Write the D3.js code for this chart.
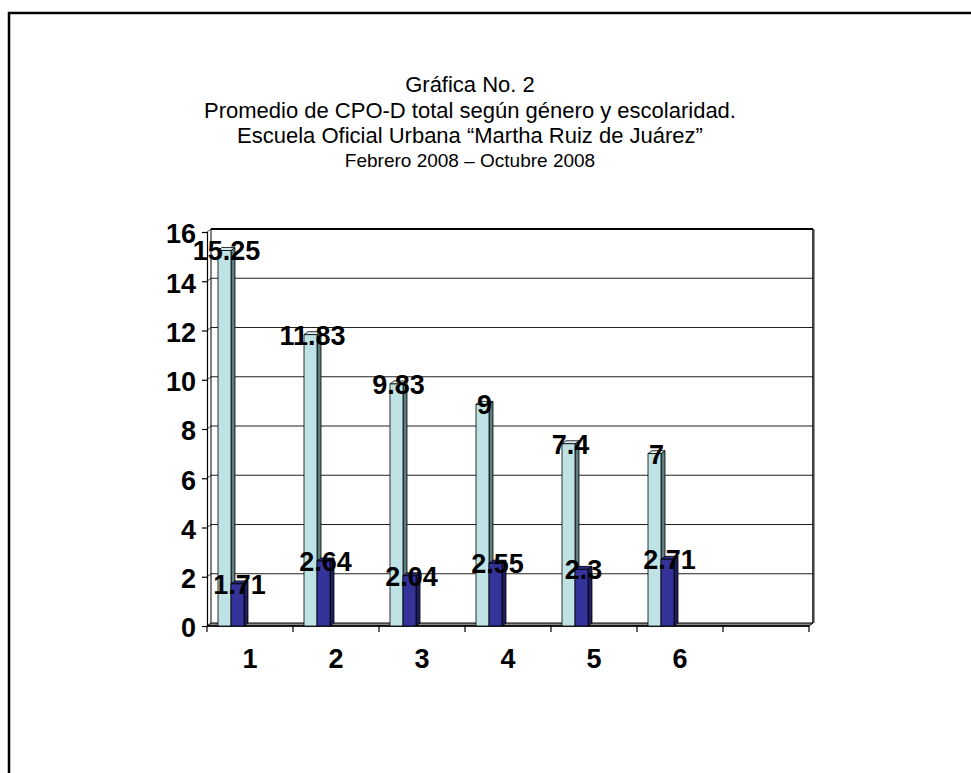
<!DOCTYPE html>
<html>
<head>
<meta charset="utf-8">
<script src="https://cdn.jsdelivr.net/npm/d3@7"></script>
<style>
  html, body { margin: 0; padding: 0; background: #fff; }
  svg { display: block; }
  text { font-family: Arial, "Liberation Sans", sans-serif; }
</style>
</head>
<body>
<svg id="chart" width="971" height="773"></svg>
<script>
// Grade levels (the seventh slot is an empty category)
const categories = ["1", "2", "3", "4", "5", "6", ""];
// Average CPO-D per grade, two series
const seriesNames = ["serieA", "serieB"];
const valuesA = [15.25, 11.83, 9.83, 9, 7.4, 7];
const valuesB = [1.71, 2.64, 2.04, 2.55, 2.3, 2.71];
const yTicks = [0, 2, 4, 6, 8, 10, 12, 14, 16];
const titleLines = [
  "Gráfica No. 2",
  "Promedio de CPO-D total según género y escolaridad.",
  "Escuela Oficial Urbana “Martha Ruiz de Juárez”",
  "Febrero 2008 – Octubre 2008"
];

const svg = d3.select("#chart");

// Page frame
svg.append("rect")
  .attr("x", 9).attr("y", 13).attr("width", 1000).attr("height", 800)
  .attr("fill", "none").attr("stroke", "#000").attr("stroke-width", 2.5);

// Title block
const titleSizes = [22, 22, 22, 19];
const titleY = [92, 118, 143, 167];
svg.append("g").selectAll("text").data(titleLines).join("text")
  .attr("x", 470).attr("y", (d, i) => titleY[i])
  .attr("text-anchor", "middle")
  .attr("font-size", (d, i) => titleSizes[i])
  .attr("fill", "#000")
  .text(d => d);

// Scales
const x = d3.scaleBand().domain(categories).range([207, 809]).padding(0);
const y = d3.scaleLinear().domain([0, 16]).range([626, 232]);
const xs = d3.scaleBand().domain(seriesNames).range([11, 37]).padding(0);

// 3D depth offset of the back wall
const dx = 4, dy = -3;
const x0 = x.range()[0], x1 = x.range()[1];

const g = svg.append("g");

// Back wall
g.append("rect")
  .attr("x", x0 + dx).attr("y", y(16) + dy)
  .attr("width", x1 - x0).attr("height", y(0) - y(16))
  .attr("fill", "#fff").attr("stroke", "none");

// Gridlines on back wall and side wall
yTicks.forEach(t => {
  if (t === 0) return;
  g.append("line")
    .attr("x1", x0 + dx).attr("x2", x1 + dx)
    .attr("y1", y(t) + dy).attr("y2", y(t) + dy)
    .attr("stroke", t === 16 ? "#000" : "#222")
    .attr("stroke-width", t === 16 ? 2 : 1.2);
  g.append("line")
    .attr("x1", x0).attr("x2", x0 + dx)
    .attr("y1", y(t)).attr("y2", y(t) + dy)
    .attr("stroke", "#444").attr("stroke-width", 1);
});

// Back wall right edge with shade
g.append("line")
  .attr("x1", x1 + dx).attr("x2", x1 + dx)
  .attr("y1", y(16) + dy).attr("y2", y(0) + dy)
  .attr("stroke", "#000").attr("stroke-width", 1.5);
g.append("line")
  .attr("x1", x1 + dx + 1.5).attr("x2", x1 + dx + 1.5)
  .attr("y1", y(16) + dy).attr("y2", y(0) + dy)
  .attr("stroke", "#999").attr("stroke-width", 1);
// Back wall left edge
g.append("line")
  .attr("x1", x0 + dx).attr("x2", x0 + dx)
  .attr("y1", y(16) + dy).attr("y2", y(0) + dy)
  .attr("stroke", "#000").attr("stroke-width", 1);

// Floor
g.append("polygon")
  .attr("points", [
    [x0, y(0)], [x1, y(0)], [x1 + dx, y(0) + dy], [x0 + dx, y(0) + dy]
  ].map(p => p.join(",")).join(" "))
  .attr("fill", "#8a8a8a").attr("stroke", "#000").attr("stroke-width", 1);
g.append("line")
  .attr("x1", x0).attr("x2", x1)
  .attr("y1", y(0)).attr("y2", y(0))
  .attr("stroke", "#000").attr("stroke-width", 1.5);

// Y axis
const yAxis = d3.axisLeft(y).tickValues(yTicks).tickSize(5).tickPadding(6)
  .tickFormat(d3.format("d"));
const yg = svg.append("g").attr("transform", `translate(${x0},0)`).call(yAxis);
yg.select(".domain").attr("stroke", "#000").attr("stroke-width", 1.2);
yg.selectAll(".tick line").attr("stroke", "#000").attr("stroke-width", 1.2);
yg.selectAll(".tick text")
  .attr("font-family", "Arial, 'Liberation Sans', sans-serif")
  .attr("font-size", 27).attr("font-weight", "bold").attr("fill", "#000")
  .attr("dy", "0.4em");

// X axis: ticks at band edges, labels at band centres
const edges = categories.map(c => x(c)).concat([x1]);
svg.append("g").selectAll("line").data(edges).join("line")
  .attr("x1", d => d).attr("x2", d => d)
  .attr("y1", y(0)).attr("y2", y(0) + 6)
  .attr("stroke", "#000").attr("stroke-width", 1.2);
const xAxis = d3.axisBottom(x).tickSize(0).tickPadding(0);
const xg = svg.append("g").attr("transform", `translate(0,${y(0)})`).call(xAxis);
xg.select(".domain").remove();
xg.selectAll(".tick text")
  .attr("font-family", "Arial, 'Liberation Sans', sans-serif")
  .attr("font-size", 27).attr("font-weight", "bold").attr("fill", "#000")
  .attr("dy", 0).attr("y", 42);

// Bars
const data = [];
categories.forEach((c, i) => {
  if (valuesA[i] !== undefined) data.push({ cat: c, s: "serieA", v: valuesA[i] });
  if (valuesB[i] !== undefined) data.push({ cat: c, s: "serieB", v: valuesB[i] });
});
const colors = {
  serieA: { front: "#bfe3e5", side: "#5e7f80", top: "#d8eff0" },
  serieB: { front: "#333399", side: "#1f1f5e", top: "#2a2a85" }
};
const bd = 4, bh = -3; // bar depth offsets
const bars = svg.append("g");
data.forEach(d => {
  const bx = x(d.cat) + xs(d.s);
  const bw = xs.bandwidth();
  const top = y(d.v), base = y(0);
  const c = colors[d.s];
  // side face
  bars.append("polygon")
    .attr("points", [[bx + bw, base], [bx + bw + bd, base + bh], [bx + bw + bd, top + bh], [bx + bw, top]]
      .map(p => p.join(",")).join(" "))
    .attr("fill", c.side).attr("stroke", "#000").attr("stroke-width", 0.8);
  // top face
  bars.append("polygon")
    .attr("points", [[bx, top], [bx + bw, top], [bx + bw + bd, top + bh], [bx + bd, top + bh]]
      .map(p => p.join(",")).join(" "))
    .attr("fill", c.top).attr("stroke", "#000").attr("stroke-width", 0.8);
  // front face
  bars.append("rect")
    .attr("x", bx).attr("y", top).attr("width", bw).attr("height", base - top)
    .attr("fill", c.front).attr("stroke", "#000").attr("stroke-width", 0.8);
});

// Value labels
svg.append("g").selectAll("text").data(data).join("text")
  .attr("x", d => x(d.cat) + xs(d.s) + xs.bandwidth() / 2 + 2)
  .attr("y", d => y(d.v) + 10)
  .attr("text-anchor", "middle")
  .attr("font-size", 27).attr("font-weight", "bold").attr("fill", "#000")
  .text(d => d.v);
</script>
</body>
</html>
